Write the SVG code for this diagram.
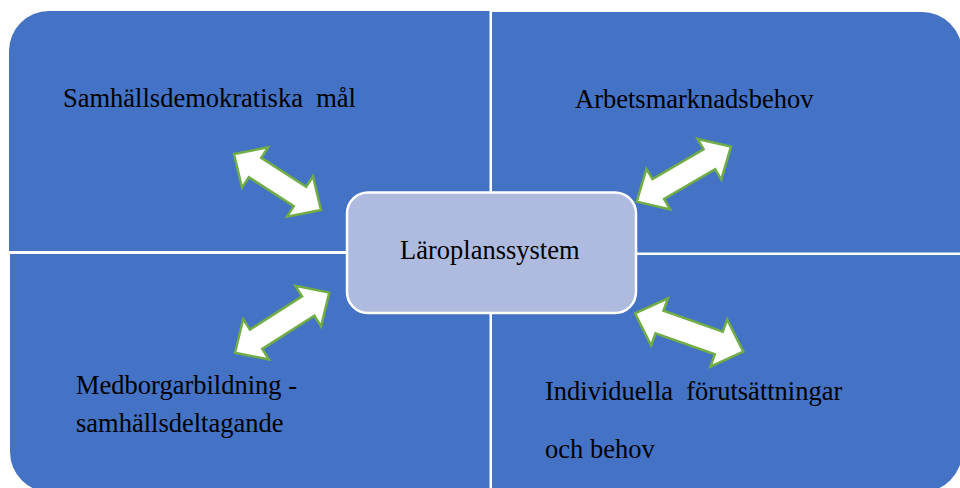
<svg xmlns="http://www.w3.org/2000/svg" width="960" height="488" viewBox="0 0 960 488">
  <defs>
    <style>
      .quad { fill: #4472C4; }
      .lbl { font-family: "Liberation Serif", "Times New Roman", serif; font-size: 26.5px; fill: #000000; }
      .arrow { fill: #FFFFFF; stroke: #70AD47; stroke-width: 2.5; stroke-linejoin: miter; }
      .center { fill: #AEBBDF; stroke: #FFFFFF; stroke-width: 2.5; }
    </style>
  </defs>
  <rect x="0" y="0" width="960" height="488" fill="#FFFFFF"/>

  <g id="quad-tl">
    <path class="quad" d="M9,51 A40,40 0 0 1 49,11 L489.5,11 L489.5,251 L9,251 Z"/>
    <text class="lbl" x="63" y="107" xml:space="preserve">Samhällsdemokratiska  mål</text>
  </g>
  <g id="quad-tr">
    <path class="quad" d="M492,12 L922,12 A40,40 0 0 1 962,52 L962,252.5 L492,252.5 Z"/>
    <text class="lbl" x="575" y="108">Arbetsmarknadsbehov</text>
  </g>
  <g id="quad-bl">
    <path class="quad" d="M10,254 L489.5,254 L489.5,492 L50,492 A40,40 0 0 1 10,452 Z"/>
    <text class="lbl" x="76" y="394">Medborgarbildning -</text>
    <text class="lbl" x="76" y="432">samhällsdeltagande</text>
  </g>
  <g id="quad-br">
    <path class="quad" d="M492,255 L962,255 L962,452 A40,40 0 0 1 922,492 L492,492 Z"/>
    <text class="lbl" x="545" y="400" xml:space="preserve">Individuella  förutsättningar</text>
    <text class="lbl" x="545" y="458">och behov</text>
  </g>

  <g id="connectors">
    <path class="arrow" transform="translate(234,154) rotate(32.8)" d="M0,0 L25,-24 L25,-11.5 L78.5,-11.5 L78.5,-24 L103.5,0 L78.5,24 L78.5,11.5 L25,11.5 L25,24 Z"/>
    <path class="arrow" transform="translate(636.7,201.7) rotate(-30.3)" d="M0,0 L25,-23.5 L25,-11.5 L84.2,-11.5 L84.2,-23.5 L109.2,0 L84.2,23.5 L84.2,11.5 L25,11.5 L25,23.5 Z"/>
    <path class="arrow" transform="translate(235,352.7) rotate(-32.5)" d="M0,0 L25,-24 L25,-11.5 L86.8,-11.5 L86.8,-24 L111.8,0 L86.8,24 L86.8,11.5 L25,11.5 L25,24 Z"/>
    <path class="arrow" transform="translate(635,313.3) rotate(19.5)" d="M0,0 L26,-25 L26,-12 L88.9,-12 L88.9,-25 L114.9,0 L88.9,25 L88.9,12 L26,12 L26,25 Z"/>
  </g>

  <g id="center">
    <rect class="center" x="347" y="192.5" width="289" height="120.5" rx="21" ry="21"/>
    <text class="lbl" x="400" y="259">Läroplanssystem</text>
  </g>
</svg>
